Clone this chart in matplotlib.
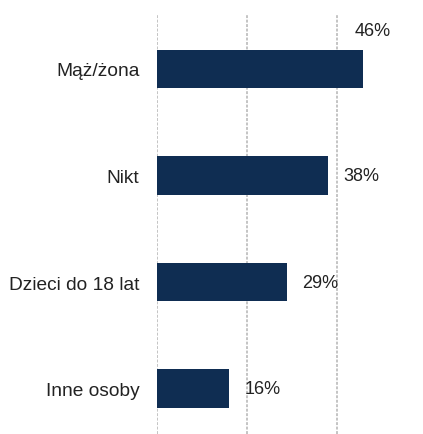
import numpy as np
import matplotlib.pyplot as plt

plt.rcParams['font.family'] = ['Liberation Sans', 'DejaVu Sans']

categories = ['Mąż/żona', 'Nikt', 'Dzieci do 18 lat', 'Inne osoby']
values = [46, 38, 29, 16]
labels = ['46%', '38%', '29%', '16%']

barColor = '#0f2d52'
textColor = '#222222'

fig = plt.figure(figsize=(4.23, 4.35), dpi=100)
ax = fig.add_axes([0.3723, 0.0, 0.6277, 0.9655])

y = np.arange(len(categories))
ax.barh(y, values, height=0.36, color=barColor, zorder=3)

for i, (v, lab) in enumerate(zip(values, labels)):
    if i == 0:
        # top label sits above the bar end
        ax.annotate(lab, (v, i), xytext=(-6, 28), textcoords='offset points',
                    ha='left', va='center', fontsize=13, color=textColor)
    else:
        ax.annotate(lab, (v, i), xytext=(11, 0), textcoords='offset points',
                    ha='left', va='center', fontsize=13, color=textColor)

ax.set_xlim(0, 59.3)
ax.set_ylim(3.427, -0.516)
ax.set_yticks(y)
ax.set_yticklabels(categories, fontsize=13.8, color=textColor)
ax.tick_params(axis='y', length=0, pad=13)
ax.set_xticks([0, 20, 40])
ax.tick_params(axis='x', length=0, labelbottom=False)
ax.xaxis.grid(True, color='#c4c4c4', linestyle=(0, (1.5, 0.8)), linewidth=1.4, zorder=0)
ax.yaxis.grid(False)
for s in ax.spines.values():
    s.set_visible(False)

fig.savefig('out.png', dpi=100)
